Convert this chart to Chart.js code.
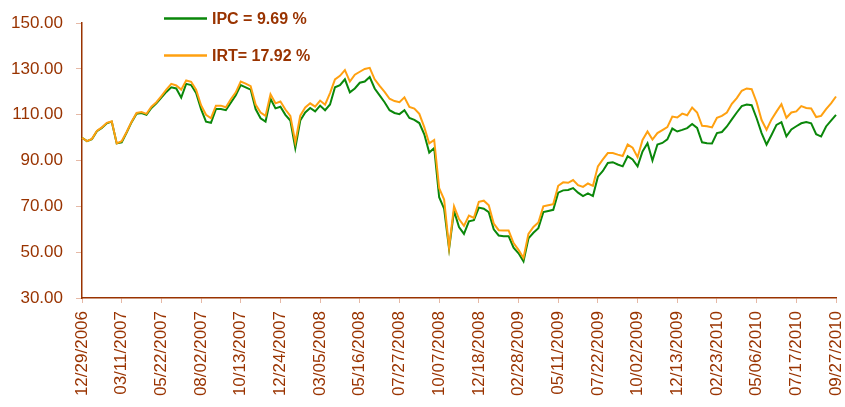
<!DOCTYPE html>
<html>
<head>
<meta charset="utf-8">
<title>IPC vs IRT</title>
<script src="https://cdn.jsdelivr.net/npm/chart.js@4/dist/chart.umd.min.js"></script>
<style>
  html, body { margin: 0; padding: 0; background: #fff; }
  #wrap { width: 845px; height: 407px; }
</style>
</head>
<body>
<div id="wrap"><canvas id="myChart" width="845" height="407"></canvas></div>
<script>
// tick dates shown on the x axis (one every 8 samples)
var tickLabels = ['12/29/2006', '03/11/2007', '05/22/2007', '08/02/2007', '10/13/2007',
  '12/24/2007', '03/05/2008', '05/16/2008', '07/27/2008', '10/07/2008', '12/18/2008',
  '02/28/2009', '05/11/2009', '07/22/2009', '10/02/2009', '12/13/2009', '02/23/2010',
  '05/06/2010', '07/17/2010', '09/27/2010'];
var perTick = 8;

// index values, base 100
var ipc = [100, 98.5, 99.3, 102.8, 104.3, 106.3, 107, 97.5, 98, 102.3, 106.8, 110.5, 110.8, 110, 113, 115,
  117.5, 120, 122, 121.5, 117.5, 123.5, 123, 119.5, 112.5, 107, 106.5, 112.5, 112.5, 112, 115.3, 118.5,
  123, 122, 121, 112.5, 108.5, 107, 117, 112.8, 113.5, 110, 107.5, 95.5, 107.5, 111, 113, 111.5,
  114, 112, 114.5, 122, 122.9, 125.5, 119.8, 121.5, 124, 124.5, 126.5, 121.5, 118.5, 115.5, 112, 110.8,
  110.3, 112, 108.6, 107.8, 106.4, 101.5, 93.5, 95.5, 74, 69, 51.5, 68, 61, 58, 63.5, 64,
  69.5, 69, 67.5, 60, 57.3, 57, 57, 52, 49.5, 46, 56, 58.5, 60.5, 67.5, 68, 68.5,
  76, 77, 77.2, 78, 76, 74.5, 75.7, 74.5, 83, 85.5, 89, 89.3, 88.3, 87.5, 91.9, 90.5,
  87.5, 94, 97.6, 90, 97, 97.7, 99.3, 104, 102.7, 103.4, 104.2, 106, 104.3, 98, 97.6, 97.5,
  102, 102.5, 104.9, 108, 111, 113.8, 114.5, 114.2, 108.5, 102, 97, 101.2, 105.6, 106.8, 100.6, 103.6,
  105, 106.3, 106.8, 106.3, 101.5, 100.5, 104.9, 107.5, 110];

var irt = [100, 98.5, 99.5, 103, 104.5, 106.5, 107.2, 97.5, 98.5, 102.5, 107, 110.8, 111.2, 110.4, 113.5, 115.5,
  118.2, 121, 123.5, 122.8, 121, 125, 124.4, 121, 114.2, 110, 108.5, 114, 114, 113.3, 116.8, 119.8,
  124.5, 123.6, 122.5, 114.5, 111, 109.5, 119, 115, 115.8, 112.3, 109.5, 98, 109.6, 113.2, 115, 113.6,
  116.2, 114.4, 119.5, 125.5, 127, 129.5, 124.5, 127.5, 128.8, 130, 130.5, 125.5, 122.6, 120, 117, 116,
  115.5, 117.6, 113.4, 112.7, 110.4, 104.6, 97.5, 99, 78, 73, 52, 70, 64.5, 61.5, 66, 65,
  72, 72.5, 70.5, 62.5, 59.6, 59.5, 59.5, 54, 51, 47.5, 58, 61, 63, 70, 70.5, 71,
  79, 80.5, 80.3, 81.5, 79.3, 78.5, 80, 79, 87.5, 90.5, 93.3, 93.3, 92.6, 92, 97, 95.6,
  91.5, 99, 102.7, 99.2, 102, 103.3, 104.6, 109.2, 108.8, 110.5, 109.8, 113.2, 111, 105.2, 105, 104.5,
  108.7, 109.5, 111, 114.8, 117.3, 120.5, 121.5, 121.2, 115.5, 107.7, 103.5, 108, 111.4, 114.6, 108.7, 111,
  111.5, 113.8, 113, 112.8, 109, 109.5, 112.5, 115, 118];

var seriesNames = ['IPC = 9.69 %', 'IRT= 17.92 %'];
var seriesColors = ['#0a870a', '#ffa010'];

var brown = '#993300';
var fontFamily = 'Arial, "Liberation Sans", sans-serif';

var labels = ipc.map(function (v, i) {
  return i % perTick === 0 ? tickLabels[i / perTick] : '';
});

// legend drawn as stacked line samples like the original
var lineLegend = {
  id: 'lineLegend',
  afterDraw: function (chart) {
    var ctx = chart.ctx;
    var rows = [18.5, 55.5];
    ctx.save();
    chart.data.datasets.forEach(function (ds, k) {
      var y = rows[k];
      ctx.strokeStyle = ds.borderColor;
      ctx.lineWidth = 2.5;
      ctx.beginPath();
      ctx.moveTo(164, y);
      ctx.lineTo(207, y);
      ctx.stroke();
      ctx.fillStyle = brown;
      ctx.font = 'bold 16px ' + fontFamily;
      ctx.textBaseline = 'middle';
      ctx.textAlign = 'left';
      ctx.fillText(ds.label, 212, y + 1);
    });
    ctx.restore();
  }
};

var ctx = document.getElementById('myChart').getContext('2d');
var myChart = new Chart(ctx, {
  type: 'line',
  data: {
    labels: labels,
    datasets: [
      { label: seriesNames[0], data: ipc, borderColor: seriesColors[0], borderWidth: 2,
        pointRadius: 0, fill: false, order: 1 },
      { label: seriesNames[1], data: irt, borderColor: seriesColors[1], borderWidth: 2,
        pointRadius: 0, fill: false, order: 0 }
    ]
  },
  options: {
    responsive: false,
    animation: false,
    layout: { padding: { top: 20, right: 9, left: 0, bottom: 0 } },
    plugins: { legend: { display: false }, tooltip: { enabled: false } },
    scales: {
      x: {
        offset: false,
        grid: { drawOnChartArea: false, drawTicks: true, tickLength: 5, color: '#e6b9a6' },
        border: { color: brown, width: 1.5 },
        ticks: {
          autoSkip: false, minRotation: 90, maxRotation: 90, padding: 8,
          color: brown, font: { family: fontFamily, size: 17 },
          callback: function (v, i) {
            return labels[i] === '' ? null : labels[i];
          }
        },
        afterFit: function (s) {
          s.height = 109;
          s.paddingRight = 0;
          s.paddingLeft = 0;
        }
      },
      y: {
        min: 30, max: 150,
        grid: { drawOnChartArea: false, drawTicks: true, tickLength: 6, color: '#e6b9a6' },
        border: { color: brown, width: 1.5 },
        ticks: {
          stepSize: 20, padding: 13, color: brown, font: { family: fontFamily, size: 17 },
          callback: function (v) { return v.toFixed(2); }
        },
        afterFit: function (s) { s.width = 82; }
      }
    }
  },
  plugins: [lineLegend]
});
</script>
</body>
</html>
